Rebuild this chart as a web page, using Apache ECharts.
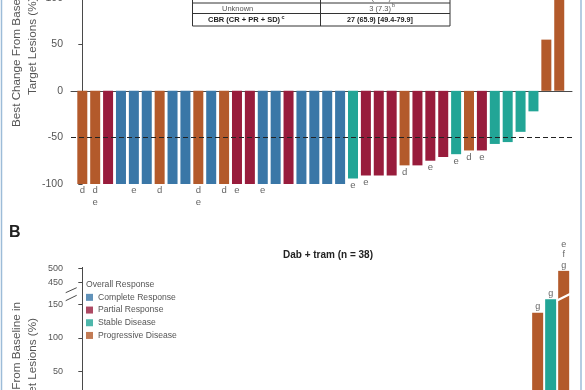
<!DOCTYPE html>
<html><head><meta charset="utf-8">
<script src="https://cdn.jsdelivr.net/npm/echarts@6/dist/echarts.min.js"></script>
<style>html,body{margin:0;padding:0;background:#fff}#c{width:585px;height:390px}</style>
</head><body><div id="c"></div>
<script>
// ---- legend / colours ----
const responseNames = ['Complete Response', 'Partial Response', 'Stable Disease', 'Progressive Disease'];
const responseColors = ['#3a77a7', '#981c3c', '#22a596', '#b35a2b'];

// ---- panel A : best change from baseline per patient (sorted) ----
const topValues = [-100, -100, -100, -100, -100, -100, -100, -100, -100, -100,
  -100, -100, -100, -100, -100, -100, -100, -100, -100, -100,
  -100, -94, -91, -91, -91, -80, -80, -75, -71, -68,
  -64, -64, -57, -55, -44, -22, 55, 110];
// 0 = CR, 1 = PR, 2 = SD, 3 = PD
const topResponse = [3, 3, 1, 0, 0, 0, 3, 0, 0, 3,
  0, 3, 1, 1, 0, 0, 1, 0, 0, 0,
  0, 2, 1, 1, 1, 3, 1, 1, 1, 2,
  3, 1, 2, 2, 2, 2, 3, 3];
const topNotes = ['d', 'd\ne', '', '', 'e', '', 'd', '', '', 'd\ne',
  '', 'd', 'e', '', 'e', '', '', '', '', '',
  '', 'e', 'e', '', '', 'd', '', 'e', '', 'e',
  'd', 'e', '', '', '', '', '', ''];
const topTicks = [-100, -50, 0, 50, 100];
const refLine = -50;

// ---- panel B : Dab + tram (n = 38); only the three right-most bars are visible ----
const bValues = [null, null, null, null, null, null, null, null, null, null,
  null, null, null, null, null, null, null, null, null, null,
  null, null, null, null, null, null, null, null, null, null,
  null, null, null, null, null, 138, 158, 492];
const bResponse = [null, null, null, null, null, null, null, null, null, null,
  null, null, null, null, null, null, null, null, null, null,
  null, null, null, null, null, null, null, null, null, null,
  null, null, null, null, null, 3, 2, 3];
const bNotes = ['', '', '', '', '', '', '', '', '', '',
  '', '', '', '', '', '', '', '', '', '',
  '', '', '', '', '', '', '', '', '', '',
  '', '', '', '', '', 'g', 'g', 'e\nf\ng'];
const bLowerTicks = [50, 100, 150];
const bUpperTicks = [450, 500];
const bLowerMax = 166;
const bUpperMin = 405;

const FONT = '"Liberation Sans", Arial, Helvetica, sans-serif';
const GRAY = '#555';
const AX = '#4a4a4a';

const chart = echarts.init(document.getElementById('c'), null, {renderer: 'canvas'});

function yAxisBase(extra) {
  return Object.assign({
    type: 'value',
    axisLine: {show: true, lineStyle: {color: AX, width: 1}},
    axisTick: {show: true, length: 4, lineStyle: {color: AX}},
    axisLabel: {color: GRAY, fontSize: 10.5, fontFamily: FONT, margin: 8},
    splitLine: {show: false}
  }, extra);
}

const option = {
  animation: false,
  textStyle: {fontFamily: FONT},
  title: {
    text: 'Dab + tram (n = 38)', left: 323, top: 245, textAlign: 'center',
    textStyle: {fontSize: 10, fontWeight: 'bold', color: '#222', fontFamily: FONT}
  },
  legend: {
    orient: 'vertical', left: 86, top: 291, icon: 'rect', itemWidth: 7, itemHeight: 7,
    itemGap: 0, selectedMode: false, padding: 0,
    textStyle: {fontSize: 8.6, color: GRAY, fontFamily: FONT, lineHeight: 12.7},
    data: responseNames
  },
  grid: [
    {left: 71, right: 13, top: -2.3, bottom: 206, outerBoundsMode: 'none', containLabel: false},
    {left: 71, right: 13, top: 294, bottom: -14.6, outerBoundsMode: 'none', containLabel: false},
    {left: 71, right: 13, top: 267.4, bottom: 96, outerBoundsMode: 'none', containLabel: false}
  ],
  xAxis: [
    {type: 'value', gridIndex: 0, min: -0.877, max: 37.99,
      axisLine: {show: true, onZero: true, lineStyle: {color: AX, width: 1}},
      axisTick: {show: false}, axisLabel: {show: false}, splitLine: {show: false}},
    {type: 'value', gridIndex: 1, min: -0.869, max: 37.64, show: false, splitLine: {show: false}},
    {type: 'value', gridIndex: 2, min: -0.869, max: 37.64, show: false, splitLine: {show: false}}
  ],
  yAxis: [
    yAxisBase({gridIndex: 0, min: topTicks[0], max: topTicks[topTicks.length - 1], interval: 50}),
    yAxisBase({gridIndex: 1, min: 0, max: bLowerMax,
      axisTick: {show: true, length: 4, lineStyle: {color: AX}, customValues: bLowerTicks},
      axisLabel: {color: GRAY, fontSize: 9, fontFamily: FONT, margin: 8, customValues: bLowerTicks}}),
    yAxisBase({gridIndex: 2, min: bUpperMin, max: 505,
      axisTick: {show: true, length: 4, lineStyle: {color: AX}, customValues: bUpperTicks},
      axisLabel: {color: GRAY, fontSize: 9, fontFamily: FONT, margin: 8, customValues: bUpperTicks}})
  ],
  series: [
    {
      type: 'bar', xAxisIndex: 0, yAxisIndex: 0, barWidth: 10,
      data: topValues.map((v, i) => [i, v]),
      itemStyle: {color: p => responseColors[topResponse[p.dataIndex]]},
      label: {show: true, position: 'outside', distance: 1, fontSize: 9.5, color: '#666',
        lineHeight: 11.7, fontFamily: FONT, formatter: p => topNotes[p.dataIndex]},
      markLine: {
        silent: true, symbol: 'none', label: {show: false},
        lineStyle: {color: '#222', type: [5, 3], width: 1},
        data: [{yAxis: refLine}]
      }
    },
    {
      type: 'bar', xAxisIndex: 1, yAxisIndex: 1, barWidth: 11,
      data: bValues.map((v, i) => [i, v]),
      itemStyle: {color: p => responseColors[bResponse[p.dataIndex]] || '#999'},
      label: {show: true, position: 'outside', distance: 0.5, fontSize: 9, color: '#666',
        lineHeight: 10.5, fontFamily: FONT,
        formatter: p => (bValues[p.dataIndex] != null && bValues[p.dataIndex] <= bLowerMax) ? bNotes[p.dataIndex] : ''}
    },
    {
      type: 'bar', xAxisIndex: 2, yAxisIndex: 2, barWidth: 11,
      data: bValues.map((v, i) => [i, (v != null && v > bUpperMin) ? v : null]),
      itemStyle: {color: p => responseColors[bResponse[p.dataIndex]] || '#999'},
      label: {show: true, position: 'outside', distance: 0.5, fontSize: 9, color: '#666',
        lineHeight: 10.5, fontFamily: FONT, formatter: p => bNotes[p.dataIndex]}
    }
  ].concat(responseNames.map((n, k) => ({
    name: n, type: 'scatter', xAxisIndex: 1, yAxisIndex: 1, data: [],
    itemStyle: {color: responseColors[k]}
  }))),
  graphic: [
    // figure frame
    {type: 'line', z: 100, shape: {x1: 1.5, y1: 0, x2: 1.5, y2: 390}, style: {stroke: '#9dbcd8', lineWidth: 1.5}},
    {type: 'line', z: 100, shape: {x1: 581, y1: 0, x2: 581, y2: 390}, style: {stroke: '#9dbcd8', lineWidth: 1.5}},
    // axis titles
    {type: 'text', z: 100, x: 17, y: 127, rotation: Math.PI / 2,
      style: {text: 'Best Change From Baseline in', fill: GRAY, font: '11.7px ' + FONT, textAlign: 'left', textVerticalAlign: 'middle'}},
    {type: 'text', z: 100, x: 33, y: 95, rotation: Math.PI / 2,
      style: {text: 'Target Lesions (%)', fill: GRAY, font: '11.7px ' + FONT, textAlign: 'left', textVerticalAlign: 'middle'}},
    {type: 'text', z: 100, x: 17, y: 302, rotation: Math.PI / 2,
      style: {text: 'Best Change From Baseline in', fill: GRAY, font: '11.7px ' + FONT, textAlign: 'right', textVerticalAlign: 'middle'}},
    {type: 'text', z: 100, x: 33, y: 318, rotation: Math.PI / 2,
      style: {text: 'Target Lesions (%)', fill: GRAY, font: '11.7px ' + FONT, textAlign: 'right', textVerticalAlign: 'middle'}},
    // panel letter
    {type: 'text', z: 100, x: 9, y: 233, style: {text: 'B', fill: '#222', font: 'bold 16px ' + FONT, textVerticalAlign: 'middle'}},
    // legend header
    {type: 'text', z: 100, x: 86, y: 284.5, style: {text: 'Overall Response', fill: GRAY, font: '8.6px ' + FONT, textVerticalAlign: 'middle'}},
    // table
    {type: 'rect', z: 100, shape: {x: 192.5, y: -30, width: 257.5, height: 56}, style: {fill: '#fff', stroke: '#333', lineWidth: 1}},
    {type: 'line', z: 101, shape: {x1: 192.5, y1: 3, x2: 450, y2: 3}, style: {stroke: '#333', lineWidth: 1}},
    {type: 'line', z: 101, shape: {x1: 192.5, y1: 13.5, x2: 450, y2: 13.5}, style: {stroke: '#333', lineWidth: 1}},
    {type: 'line', z: 101, shape: {x1: 320.5, y1: -30, x2: 320.5, y2: 26}, style: {stroke: '#333', lineWidth: 1}},
    {type: 'text', z: 101, x: 222, y: -2.5, style: {text: 'PD', fill: GRAY, font: '7.5px ' + FONT, textVerticalAlign: 'middle'}},
    {type: 'text', z: 101, x: 391, y: -2.5, style: {text: '11 (26.8)', fill: GRAY, font: '7.5px ' + FONT, textAlign: 'right', textVerticalAlign: 'middle'}},
    {type: 'text', z: 101, x: 222, y: 8.5, style: {text: 'Unknown', fill: GRAY, font: '7.5px ' + FONT, textVerticalAlign: 'middle'}},
    {type: 'text', z: 101, x: 391, y: 8.5, style: {text: '3 (7.3)', fill: GRAY, font: '7.5px ' + FONT, textAlign: 'right', textVerticalAlign: 'middle'}},
    {type: 'text', z: 101, x: 392, y: 5.5, style: {text: 'b', fill: GRAY, font: '5.5px ' + FONT, textVerticalAlign: 'middle'}},
    {type: 'text', z: 101, x: 208, y: 20, style: {text: 'CBR (CR + PR + SD)', fill: '#222', font: 'bold 7.5px ' + FONT, textVerticalAlign: 'middle'}},
    {type: 'text', z: 101, x: 281.5, y: 17, style: {text: 'c', fill: '#222', font: 'bold 5.5px ' + FONT, textVerticalAlign: 'middle'}},
    {type: 'text', z: 101, x: 347, y: 20, style: {text: '27 (65.9) [49.4-79.9]', fill: '#222', font: 'bold 7.2px ' + FONT, textVerticalAlign: 'middle'}},
    // axis break marks (panel B)
    {type: 'polygon', z: 100, shape: {points: [[65.7, 292.7], [76.7, 287.7], [76.7, 295.3], [65.7, 300.7]]}, style: {fill: '#fff'}},
    {type: 'line', z: 101, shape: {x1: 65.7, y1: 292.7, x2: 76.7, y2: 287.7}, style: {stroke: AX, lineWidth: 1}},
    {type: 'line', z: 101, shape: {x1: 65.7, y1: 300.7, x2: 76.7, y2: 295.3}, style: {stroke: AX, lineWidth: 1}},
    {type: 'polygon', z: 100, shape: {points: [[556.5, 299.5], [570.5, 292.5], [570.5, 295], [556.5, 302]]}, style: {fill: '#fff'}}
  ]
};
chart.setOption(option);
</script>
</body></html>
